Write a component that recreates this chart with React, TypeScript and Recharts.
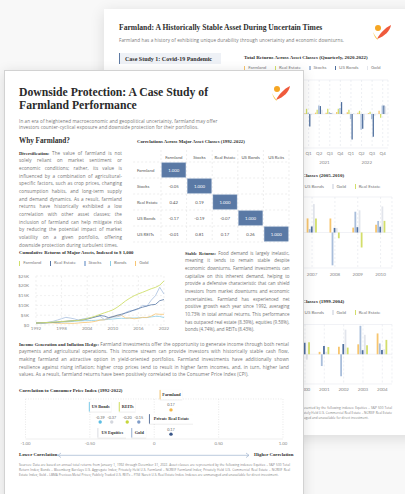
import React from 'react';
import {
  ScatterChart, Scatter, XAxis, YAxis, CartesianGrid, ReferenceLine,
  LineChart, Line, BarChart, Bar,
} from 'recharts';

document.body.style.margin = '0';

const SERIF = '"Liberation Serif", serif';
const SANS = 'Lato, sans-serif';
const BODY = '"Open Sans", sans-serif';

// ---- correlation matrix (1992-2022), lower triangle ----
const corrCols = ['Farmland', 'Stocks', 'Real Estate', 'US Bonds', 'US Reits'];
const corrRows = ['Farmland', 'Stocks', 'Real Estate', 'US Bonds', 'US REITs'];
const corrFarmland = [1];
const corrStocks = [-0.05, 1];
const corrRealEstate = [0.42, 0.19, 1];
const corrBonds = [-0.17, -0.19, -0.07, 1];
const corrReits = [-0.01, 0.81, 0.17, 0.26, 1];

// ---- cumulative returns, indexed to $1,000 ----
const years = [1992, 1993, 1994, 1995, 1996, 1997, 1998, 1999, 2000, 2001, 2002, 2003, 2004, 2005, 2006, 2007,
  2008, 2009, 2010, 2011, 2012, 2013, 2014, 2015, 2016, 2017, 2018, 2019, 2020, 2021, 2022];
const farmlandIdx = [1000, 1090, 1200, 1310, 1470, 1630, 1790, 1920, 2070, 2230, 2340, 2700, 3300, 3900, 4600, 5400,
  6200, 6900, 7700, 9000, 10600, 12300, 13700, 14900, 15900, 16700, 17600, 18500, 19200, 20300, 22500];
const realEstateIdx = [1000, 1030, 1090, 1170, 1290, 1460, 1680, 1870, 2100, 2250, 2400, 2620, 3000, 3600, 4190, 4850,
  4540, 3770, 4270, 4960, 5500, 6100, 6800, 7700, 8400, 9100, 9700, 10300, 10500, 12400, 13000];
const stocksIdx = [1000, 1100, 1115, 1530, 1880, 2510, 3220, 3900, 3550, 3120, 2430, 3130, 3470, 3640, 4210, 4450,
  2800, 3540, 4080, 4160, 4830, 6390, 7270, 7370, 8250, 10050, 9610, 12640, 14960, 19260, 15770];
const bondsIdx = [1000, 1097, 1065, 1262, 1308, 1434, 1559, 1546, 1726, 1872, 2064, 2149, 2242, 2292, 2391, 2564,
  2699, 2859, 3046, 3284, 3422, 3353, 3552, 3572, 3664, 3794, 3793, 4125, 4435, 4367, 3800];
const goldIdx = [1000, 1170, 1150, 1160, 1100, 870, 860, 870, 820, 830, 1040, 1250, 1310, 1540, 1900, 2500,
  2630, 3290, 4220, 4650, 4980, 3610, 3550, 3180, 3440, 3900, 3830, 4540, 5660, 5450, 5440];
const yearTicks = [1992, 1998, 2004, 2010, 2016, 2022];

// ---- correlation to CPI ----
const cpiNames = ['Farmland', 'US Bonds', 'US Equities', 'REITs', 'Gold', 'Private Real Estate'];
const cpiCorr = [0.17, -0.39, -0.37, -0.2, -0.15, 0.17];
const cpiPlotX = [0.13, -0.42, -0.33, -0.21, -0.12, 0.13]; // dodged positions as drawn
const cpiRow = [3, 2, 2, 2, 2, 1];

// ---- quarterly total returns 2020-2022 (%) ----
const quarters = ['Q1', 'Q2', 'Q3', 'Q4', 'Q1', 'Q2', 'Q3', 'Q4', 'Q1', 'Q2', 'Q3', 'Q4'];
const quarterYears = ['2020', '2020', '2020', '2020', '2021', '2021', '2021', '2021', '2022', '2022', '2022', '2022'];
const qFarmland = [0.5, 0.5, 0.7, 2.4, 0.6, 1.2, 1.0, 1.8, 1.6, 1.0, 0.8, 2.8];
const qRealEstate = [0.7, -1.0, 0.7, 1.2, 4.6, 3.7, 4.6, 4.6, 3.7, 2.8, 2.0, -3.4];
const qStocks = [-19.6, 20.5, 8.9, 12.1, 1.2, 7.4, 1.5, 5.2, -4.6, -14.0, -4.6, 7.4];
const qBonds = [3.1, 2.9, 0.6, 0.7, -11.0, 7.0, 0.6, 10.5, -22.5, -13.0, -20.0, 7.4];
const qGold = [4.9, 12.9, 5.9, -0.5, -1.0, 3.7, 1.2, -0.5, 0.8, -5.5, -1.5, 6.8];

// ---- annual total returns 2005-2010 (%) ----
const gfcYears = ['2005', '2006', '2007', '2008', '2009', '2010'];
const gfcFarmland = [20.0, 19.7, 15.9, 15.8, 5.5, 8.7];
const gfcStocks = [4.9, 15.8, 3.8, -37.0, 23.4, 13.0];
const gfcBonds = [2.4, 4.3, 6.8, 5.2, 6.0, 6.5];
const gfcGold = [17.8, 23.2, 32.0, 5.0, 25.0, 29.4];
const gfcRealEstate = [20.1, 16.6, 15.8, -6.5, -16.9, 13.1];

// ---- annual total returns 1999-2004 (%) ----
const dotYears = ['1999', '2000', '2001', '2002', '2003', '2004'];
const dotFarmland = [2.2, 7.5, 2.4, 7.5, 10.0, 21.0];
const dotStocks = [21.0, -9.1, -11.9, -22.1, 28.7, 10.9];
const dotBonds = [-0.8, 11.6, 8.4, 10.3, 4.1, 4.3];
const dotGold = [0.9, -5.4, 2.5, 24.8, 19.6, 5.0];
const dotRealEstate = [11.4, 12.2, 7.3, 6.7, 9.0, 14.5];

const C = {
  orange: '#f7c56e',
  lime: '#d3de6a',
  steel: '#a9bedb',
  navy: '#4f6f9e',
  silver: '#e2e5ec',
};

const corrTable = [corrFarmland, corrStocks, corrRealEstate, corrBonds, corrReits];
const corrCells = corrTable.flatMap((row, r) => row.map((v, c) => ({ col: c, row: r, value: v })));
const cumulativeData = years.map((y, i) => ({
  year: y, farmland: farmlandIdx[i], realEstate: realEstateIdx[i], stocks: stocksIdx[i], bonds: bondsIdx[i], gold: goldIdx[i],
}));
const cpiData = cpiNames.map((n, i) => ({ name: n, corr: cpiCorr[i], x: cpiPlotX[i], y: cpiRow[i] }));
const quarterData = quarters.map((q, i) => ({
  q, year: quarterYears[i], farmland: qFarmland[i], realEstate: qRealEstate[i], stocks: qStocks[i], bonds: qBonds[i], gold: qGold[i],
}));
const gfcData = gfcYears.map((y, i) => ({
  year: y, farmland: gfcFarmland[i], stocks: gfcStocks[i], bonds: gfcBonds[i], gold: gfcGold[i], realEstate: gfcRealEstate[i],
}));
const dotData = dotYears.map((y, i) => ({
  year: y, farmland: dotFarmland[i], stocks: dotStocks[i], bonds: dotBonds[i], gold: dotGold[i], realEstate: dotRealEstate[i],
}));

const cpiColors: Record<string, string> = {
  'Farmland': '#f5b84a',
  'US Bonds': '#5cbde3',
  'US Equities': '#d4d7de',
  'REITs': '#c6d63a',
  'Gold': '#7f9cc8',
  'Private Real Estate': '#3a5789',
};
const cpiBelow: Record<string, boolean> = { 'US Equities': true, 'Gold': true };

const sourcesText =
  'Sources: Data are based on annual total returns from January 1, 1992 through December 31, 2022. Asset classes are represented by the following indexes: Equities – S&P 500 Total Return Index; Bonds – Bloomberg Barclays U.S. Aggregate Index; Privately Held U.S. Farmland – NCREIF Farmland Index; Privately Held U.S. Commercial Real Estate – NCREIF Real Estate Index; Gold – LBMA Precious Metal Prices; Publicly Traded U.S. REITs – FTSE Nareit U.S. Real Estate Index. Indexes are unmanaged and unavailable for direct investment.';

const Logo = ({ left, top }: { left: number; top: number }) => (
  <svg style={{ position: 'absolute', left, top }} width={20} height={17} viewBox="0 0 20 17">
    <circle cx={6} cy={4} r={3} fill="#f6a623" />
    <path d="M5 15 C 8 9, 13 4, 19 1 C 18 7, 13 12, 5 15 Z" fill="#ef5a3c" />
    <path d="M1 8 C 3 12, 5 14, 6 16 C 4 15, 2 12, 1 8 Z" fill="#f7c948" />
  </svg>
);

const LegendRow = ({ items, colors, left, top }: { items: string[]; colors: string[]; left: number; top: number }) => (
  <div style={{ position: 'absolute', left, top, display: 'flex', alignItems: 'center', fontFamily: SANS, fontSize: 4.5, color: '#7a7a7a', whiteSpace: 'nowrap', lineHeight: '6px' }}>
    {items.map((n, i) => (
      <span key={n} style={{ display: 'flex', alignItems: 'center', marginRight: 8.5 }}>
        <span style={{ width: 1.2, height: 4.5, background: colors[i], marginRight: 3 }} />
        {n}
      </span>
    ))}
  </div>
);

const Title = ({ left, top, size, children }: { left: number; top: number; size: number; children: React.ReactNode }) => (
  <div style={{ position: 'absolute', left, top, fontFamily: SERIF, fontWeight: 700, fontSize: size, color: '#2e2e2e', whiteSpace: 'nowrap', lineHeight: `${size + 2}px` }}>
    {children}
  </div>
);

const Para = ({ left, top, width, lead, text, size = 4.6, lh = 7.67, spacing = 0.1 }: any) => (
  <div style={{ position: 'absolute', left, top, width, fontFamily: BODY, fontSize: size, letterSpacing: spacing, lineHeight: `${lh}px`, color: '#747474', textAlign: 'justify' }}>
    {lead && <span style={{ fontFamily: SERIF, fontWeight: 700, color: '#333', letterSpacing: 0 }}>{lead} </span>}
    {text}
  </div>
);

const CELL_W = 25.6;
const CELL_H = 16;
const HeatCell = (props: any) => {
  const { cx, cy, payload } = props;
  const diag = payload.col === payload.row;
  return (
    <g>
      {diag && (
        <rect x={cx - CELL_W / 2 + 0.8} y={cy - CELL_H / 2 + 0.8} width={CELL_W - 1.6} height={CELL_H - 1.6}
          fill="#5a79a5" stroke="#8aa2c4" strokeWidth={0.5} />
      )}
      <text x={cx} y={cy} dy="0.35em" textAnchor="middle" fontSize={4.3} fontFamily={SANS} fill={diag ? '#fff' : '#555'}>
        {diag ? '1.000' : payload.value.toFixed(2)}
      </text>
    </g>
  );
};

const RowTick = (props: any) => {
  const { x, y, payload } = props;
  return (
    <text x={x - 24} y={y} dy="0.35em" textAnchor="start" fontSize={4.3} fontFamily={SANS} fill="#555">
      {corrRows[payload.value]}
    </text>
  );
};

const CpiDot = (props: any) => {
  const { cx, cy, payload } = props;
  const color = cpiColors[payload.name];
  const w = payload.name.length * 1.95 + 7;
  const h = 9.5;
  const bx = cx - w / 2;
  const by = cpiBelow[payload.name] ? cy + 6 : cy - 10.5 - h;
  return (
    <g>
      <rect x={bx} y={by} width={w} height={h} fill="#fff" filter="url(#cpiShadow)" />
      <rect x={bx} y={by} width={0.8} height={h} fill={color} />
      <text x={cx + 0.5} y={by + h / 2} dy="0.35em" textAnchor="middle" fontSize={4.3} fontFamily={SERIF} fontWeight={700} fill="#333">
        {payload.name}
      </text>
      <text x={cx} y={cy - 3.5} textAnchor="middle" fontSize={3.8} fontFamily={SANS} fill="#666">
        {payload.corr.toFixed(2)}
      </text>
      <circle cx={cx} cy={cy} r={1.7} fill={color} />
    </g>
  );
};

const axisTick = { fontSize: 4.5, fill: '#8a8a8a', fontFamily: SANS };

const returnBars = (order: string[], colors: string[], size: number) =>
  order.map((k, i) => <Bar key={k} dataKey={k} fill={colors[i]} barSize={size} isAnimationActive={false} />);

export default function App() {
  const cellBounds = [-0.5, 0.5, 1.5, 2.5, 3.5, 4.5];
  return (
    <div style={{ position: 'relative', width: 405, height: 494, overflow: 'hidden', background: '#f8f8f8' }}>
      {/* ---------- back page ---------- */}
      <div style={{ position: 'absolute', left: 104, top: 9, width: 330, height: 426, background: '#fff', boxShadow: '0 3px 14px rgba(0,0,0,0.12)' }} />
      <Title left={119} top={23} size={7.6}>Farmland: A Historically Stable Asset During Uncertain Times</Title>
      <div style={{ position: 'absolute', left: 119, top: 37, fontFamily: BODY, fontSize: 4.6, letterSpacing: 0.1, color: '#777', whiteSpace: 'nowrap' }}>
        Farmland has a history of exhibiting unique durability through uncertainty and economic downturns.
      </div>
      <Logo left={372} top={24} />
      <div style={{ position: 'absolute', left: 119, top: 53, width: 102, height: 11, background: '#eef1f6', borderLeft: '1px solid #5e7aa3', boxSizing: 'border-box' }} />
      <Title left={125} top={55} size={6}>Case Study 1: Covid-19 Pandemic</Title>

      <Title left={244} top={54} size={5}>Total Returns Across Asset Classes (Quarterly, 2020-2022)</Title>
      <LegendRow left={244} top={65} items={['Farmland', 'Real Estate', 'Stocks', 'US Bonds', 'Gold']}
        colors={[C.orange, C.lime, C.steel, C.navy, C.silver]} />
      <div style={{ position: 'absolute', left: 230, top: 76 }}>
        <BarChart width={165} height={90} data={quarterData} margin={{ top: 4, right: 7, bottom: 0, left: 0 }} barGap={0.3}>
          <CartesianGrid stroke="#e8eaf0" strokeWidth={0.6} vertical={false} />
          <CartesianGrid stroke="#e2e5ec" strokeWidth={0.6} horizontal={false} strokeDasharray="2 2" />
          <XAxis dataKey="q" tickLine={false} axisLine={false} tick={axisTick} tickSize={0} tickMargin={3.5} height={8} interval={0} />
          <XAxis xAxisId="yr" dataKey="year" allowDuplicatedCategory={false} tickLine={false} axisLine={false} tick={axisTick} tickSize={0} tickMargin={4.5} height={10} />
          <YAxis domain={[-30, 30]} ticks={[-30, -20, -10, 0, 10, 20, 30]} width={31} tickLine={false} axisLine={false} tick={axisTick} />
          {returnBars(['farmland', 'realEstate', 'stocks', 'bonds', 'gold'], [C.orange, C.lime, C.steel, C.navy, C.silver], 1.3)}
        </BarChart>
      </div>

      <Title left={244} top={172} size={5}>Total Returns Across Asset Classes (2005-2010)</Title>
      <LegendRow left={244} top={183.5} items={['Farmland', 'Stocks', 'US Bonds', 'Gold', 'Real Estate']}
        colors={[C.orange, C.steel, C.navy, C.silver, C.lime]} />
      <div style={{ position: 'absolute', left: 224, top: 193 }}>
        <BarChart width={172} height={88} data={gfcData} margin={{ top: 4, right: 4, bottom: 2, left: 0 }} barGap={0.3}>
          <CartesianGrid stroke="#e8eaf0" strokeWidth={0.6} vertical={false} />
          <CartesianGrid stroke="#e2e5ec" strokeWidth={0.6} horizontal={false} strokeDasharray="2 2" />
          <XAxis dataKey="year" tickLine={false} axisLine={false} tick={axisTick} tickSize={0} tickMargin={4.8} height={11} interval={0} />
          <YAxis domain={[-40, 40]} ticks={[-40, -20, 0, 20, 40]} width={31} tickLine={false} axisLine={false} tick={axisTick} />
          {returnBars(['farmland', 'stocks', 'bonds', 'gold', 'realEstate'], [C.orange, C.steel, C.navy, C.silver, C.lime], 1.8)}
        </BarChart>
      </div>

      <Title left={244} top={298} size={5}>Total Returns Across Asset Classes (1999-2004)</Title>
      <LegendRow left={244} top={309.5} items={['Farmland', 'Stocks', 'US Bonds', 'Gold', 'Real Estate']}
        colors={[C.orange, C.steel, C.navy, C.silver, C.lime]} />
      <div style={{ position: 'absolute', left: 245, top: 320 }}>
        <BarChart width={151} height={76} data={dotData} margin={{ top: 4.5, right: 4, bottom: 2, left: 0 }} barGap={0.4}>
          <CartesianGrid stroke="#e8eaf0" strokeWidth={0.6} vertical={false} />
          <CartesianGrid stroke="#e2e5ec" strokeWidth={0.6} horizontal={false} strokeDasharray="2 2" />
          <XAxis dataKey="year" tickLine={false} axisLine={false} tick={axisTick} tickSize={0} tickMargin={3.5} height={10} interval={0} />
          <YAxis domain={[-30, 30]} ticks={[-30, -20, -10, 0, 10, 20, 30]} width={31} tickLine={false} axisLine={false} tick={axisTick} />
          {returnBars(['farmland', 'stocks', 'bonds', 'gold', 'realEstate'], [C.orange, C.steel, C.navy, C.silver, C.lime], 1.8)}
        </BarChart>
      </div>
      <div style={{ position: 'absolute', left: 119, top: 405.5, width: 273, fontFamily: BODY, fontSize: 3.1, letterSpacing: 0.05, lineHeight: '5px', color: '#808080', textAlign: 'justify' }}>
        {sourcesText}
      </div>

      {/* ---------- front page ---------- */}
      <div style={{ position: 'absolute', left: 4, top: 70, width: 300, height: 440, background: '#fff', border: '1px solid #d2d2d2', boxSizing: 'border-box', boxShadow: '0 2px 12px rgba(0,0,0,0.12)' }} />
      <div style={{ position: 'absolute', left: 19, top: 85.5, fontFamily: SERIF, fontWeight: 700, fontSize: 11.7, lineHeight: '13px', color: '#2a2a2a', width: 240 }}>
        Downside Protection: A Case Study of<br />Farmland Performance
      </div>
      <Logo left={271} top={85} />
      <div style={{ position: 'absolute', left: 19, top: 117.7, width: 220, fontFamily: BODY, fontSize: 4.6, letterSpacing: 0.1, lineHeight: '6.7px', color: '#777' }}>
        In an era of heightened macroeconomic and geopolitical uncertainty, farmland may offer<br />investors counter-cyclical exposure and downside protection for their portfolios.
      </div>
      <Title left={19} top={137} size={7.2}>Why Farmland?</Title>
      <Para left={19} top={149.5} width={103} lead="Diversification:"
        text="The value of farmland is not solely reliant on market sentiment or economic conditions; rather, its value is influenced by a combination of agricultural-specific factors, such as crop prices, changing consumption habits, and long-term supply and demand dynamics. As a result, farmland returns have historically exhibited a low correlation with other asset classes; the inclusion of farmland can help mitigate risk by reducing the potential impact of market volatility on a given portfolio, offering downside protection during turbulent times." />

      <Title left={137} top={138.5} size={4.8}>Correlations Across Major Asset Classes (1992-2022)</Title>
      <div style={{ position: 'absolute', left: 130, top: 148 }}>
        <ScatterChart width={165} height={96} margin={{ top: 0, right: 6, bottom: 2, left: 0 }}>
          <XAxis type="number" dataKey="col" orientation="top" domain={[-0.5, 4.5]} ticks={[0, 1, 2, 3, 4]} interval={0}
            tickFormatter={(i: number) => corrCols[i]} tickLine={false} axisLine={false} tickSize={0} tickMargin={3}
            height={14} tick={{ fontSize: 4.3, fill: '#555', fontFamily: SANS }} />
          <YAxis type="number" dataKey="row" domain={[-0.5, 4.5]} reversed ticks={[0, 1, 2, 3, 4]} interval={0}
            tickLine={false} axisLine={false} tickSize={0} tickMargin={0} width={31} tick={<RowTick />} />
          {cellBounds.map((b) => (
            <ReferenceLine key={'v' + b} segment={[{ x: b, y: -1.25 }, { x: b, y: 4.5 }]} ifOverflow="visible"
              stroke="#e3e3e3" strokeWidth={0.6} strokeDasharray="2 2" />
          ))}
          {cellBounds.map((b) => (
            <ReferenceLine key={'h' + b} segment={[{ x: -1.59, y: b }, { x: 4.5, y: b }]} ifOverflow="visible"
              stroke="#e3e3e3" strokeWidth={0.6} strokeDasharray="2 2" />
          ))}
          <Scatter data={corrCells} shape={HeatCell} isAnimationActive={false} />
        </ScatterChart>
      </div>

      <Title left={19} top={249.7} size={4.8}>Cumulative Returns of Major Assets, Indexed to $ 1,000</Title>
      <LegendRow left={19} top={260.3} items={['Farmland', 'Real Estate', 'Stocks', 'Bonds', 'Gold']}
        colors={['#cfdf6b', '#5877a5', '#a9c0df', '#8ccde6', '#f8c572']} />
      <div style={{ position: 'absolute', left: 0, top: 270 }}>
        <LineChart width={170} height={63} data={cumulativeData} margin={{ top: 6, right: 6, bottom: 0, left: 0 }}>
          <CartesianGrid stroke="#e6e6e6" strokeWidth={0.6} strokeDasharray="2 2" />
          <XAxis dataKey="year" type="number" domain={[1992, 2022]} ticks={yearTicks} interval={0} tickLine={false} axisLine={false}
            tick={axisTick} tickSize={0} tickMargin={2} height={8} />
          <YAxis domain={[0, 25000]} ticks={[0, 5000, 10000, 15000, 20000, 25000]} interval={0}
            tickFormatter={(v: number) => (v === 0 ? '$0' : `$${v / 1000}K`)} width={36} tickLine={false} axisLine={false}
            tick={axisTick} tickSize={0} tickMargin={7} />
          <Line dataKey="bonds" stroke="#8ccde6" strokeWidth={0.8} dot={false} isAnimationActive={false} />
          <Line dataKey="gold" stroke="#f8c572" strokeWidth={0.8} dot={false} isAnimationActive={false} />
          <Line dataKey="stocks" stroke="#a9c0df" strokeWidth={0.8} dot={false} isAnimationActive={false} />
          <Line dataKey="realEstate" stroke="#5877a5" strokeWidth={0.8} dot={false} isAnimationActive={false} />
          <Line dataKey="farmland" stroke="#cfdf6b" strokeWidth={0.9} dot={false} isAnimationActive={false} />
        </LineChart>
      </div>

      <Para left={185} top={249.5} width={104.5} size={4.5} spacing={-0.02} lead="Stable Returns:"
        text="Food demand is largely inelastic, meaning it tends to remain stable despite economic downturns. Farmland investments can capitalize on this inherent demand, helping to provide a defensive characteristic that can shield investors from market downturns and economic uncertainties. Farmland has experienced net positive growth each year since 1992, averaging 10.73% in total annual returns. This performance has outpaced real estate (8.39%), equities (9.58%), bonds (4.74%), and REITs (8.43%)." />

      <Para left={19} top={340.5} width={270} lead="Income Generation and Inflation Hedge:"
        text="Farmland investments offer the opportunity to generate income through both rental payments and agricultural operations. This income stream can provide investors with historically stable cash flow, making farmland an attractive option in yield-oriented portfolios. Farmland investments have additionally shown resilience against rising inflation; higher crop prices tend to result in higher farm incomes, and, in turn, higher land values. As a result, farmland returns have been positively correlated to the Consumer Price Index (CPI)." />

      <Title left={19} top={388} size={4.9}>Correlation to Consumer Price Index (1992-2022)</Title>
      <div style={{ position: 'absolute', left: 0, top: 384 }}>
        <ScatterChart width={290} height={68} margin={{ top: 15, right: 7, bottom: 0, left: 25.5 }}>
          <defs>
            <filter id="cpiShadow" x="-20%" y="-50%" width="140%" height="200%">
              <feDropShadow dx="0" dy="0.4" stdDeviation="0.7" floodColor="#000" floodOpacity="0.18" />
            </filter>
          </defs>
          <CartesianGrid horizontal={false} stroke="#dcdcdc" strokeWidth={0.6} strokeDasharray="1 1.5" />
          <ReferenceLine y={3.9} stroke="#dcdcdc" strokeWidth={0.6} strokeDasharray="1 1.5" />
          <XAxis type="number" dataKey="x" domain={[-1, 1]} ticks={[-1, -0.5, 0, 0.5, 1]} interval={0}
            tickFormatter={(v: number) => (v === 0 ? '0' : v.toFixed(2))} tickLine={false} axisLine={{ stroke: '#e4e4e4', strokeWidth: 0.6 }}
            tick={{ fontSize: 4.3, fill: '#888', fontFamily: SANS }} tickSize={0} tickMargin={3.3} height={13} />
          <YAxis type="number" dataKey="y" domain={[0.6, 3.9]} hide />
          <Scatter data={cpiData} shape={CpiDot} isAnimationActive={false} />
        </ScatterChart>
      </div>

      <Title left={19} top={452} size={4.8}>Lower Correlation</Title>
      <svg style={{ position: 'absolute', left: 0, top: 450 }} width={300} height={12}>
        <line x1={58} y1={5.3} x2={249} y2={5.3} stroke="#9fb3cf" strokeWidth={0.7} />
        <path d="M61 3 L58 5.3 L61 7.6" fill="none" stroke="#9fb3cf" strokeWidth={0.7} />
        <path d="M246 3 L249 5.3 L246 7.6" fill="none" stroke="#9fb3cf" strokeWidth={0.7} />
      </svg>
      <Title left={254} top={452} size={4.8}>Higher Correlation</Title>
      <div style={{ position: 'absolute', left: 19, top: 463.2, width: 271, fontFamily: BODY, fontSize: 3.1, letterSpacing: 0.05, lineHeight: '5px', color: '#808080', textAlign: 'justify' }}>
        {sourcesText}
      </div>
    </div>
  );
}
